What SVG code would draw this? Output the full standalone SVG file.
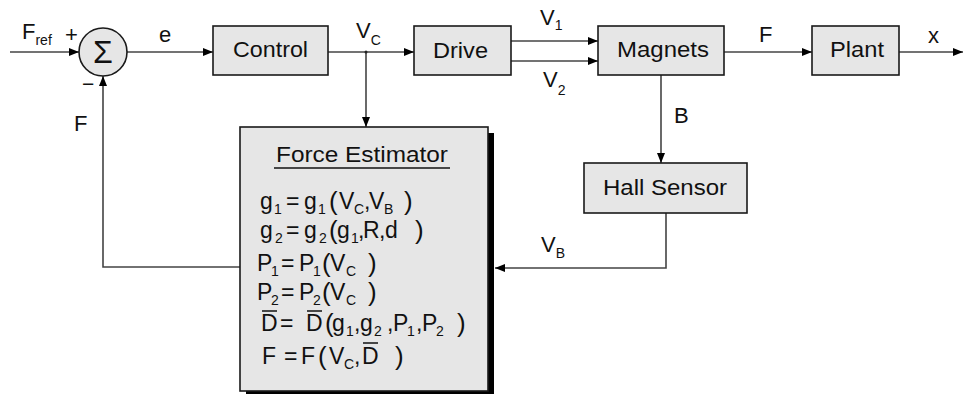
<svg xmlns="http://www.w3.org/2000/svg" width="964" height="394" viewBox="0 0 964 394">
<style>
.box{fill:#e6e6e6;stroke:#1a1a1a;stroke-width:1.6}
.t{font-family:"Liberation Sans",Arial,sans-serif;fill:#111;font-size:22px}
.eq{font-family:"Liberation Sans",Arial,sans-serif;fill:#111;font-size:23px}
.sb{font-size:14px}
.p{font-size:26px}
.w{stroke:#444;stroke-width:1.6;fill:none}
.ol{stroke:#111;stroke-width:1.5}
</style>
<defs>
<marker id="ar" viewBox="0 0 10 8" refX="10" refY="4" markerWidth="10" markerHeight="8" markerUnits="userSpaceOnUse" orient="auto">
<path d="M0,0 L10,4 L0,8 Z" fill="#000"/>
</marker>
</defs>

<g id="connectors">
<line class="w" x1="10" y1="52" x2="79" y2="52" marker-end="url(#ar)"/>
<line class="w" x1="127" y1="52" x2="213" y2="52" marker-end="url(#ar)"/>
<line class="w" x1="328" y1="52" x2="414" y2="52" marker-end="url(#ar)"/>
<line class="w" x1="366" y1="52" x2="366" y2="127" marker-end="url(#ar)"/>
<line class="w" x1="511" y1="41" x2="598" y2="41" marker-end="url(#ar)"/>
<line class="w" x1="511" y1="61" x2="598" y2="61" marker-end="url(#ar)"/>
<line class="w" x1="724" y1="52" x2="812" y2="52" marker-end="url(#ar)"/>
<line class="w" x1="899" y1="52" x2="963" y2="52" marker-end="url(#ar)"/>
<line class="w" x1="661" y1="75" x2="661" y2="163" marker-end="url(#ar)"/>
<polyline class="w" points="666,213 666,268 495,268" marker-end="url(#ar)"/>
<polyline class="w" points="240,267 103,267 103,76" marker-end="url(#ar)"/>
<circle cx="366" cy="52" r="1.5" fill="#222"/>
</g>

<g id="labels">
<text class="t" x="22" y="39">F<tspan class="sb" y="45">ref</tspan></text>
<text class="t" x="65" y="42" style="font-size:22px">+</text>
<text class="t" x="82" y="91" style="font-size:21px">−</text>
<text class="t" x="159" y="42">e</text>
<text class="t" x="356" y="38">V<tspan class="sb" y="45">C</tspan></text>
<text class="t" x="540" y="25">V<tspan class="sb" y="30">1</tspan></text>
<text class="t" x="543" y="87">V<tspan class="sb" y="95">2</tspan></text>
<text class="t" x="759" y="42">F</text>
<text class="t" x="928" y="43">x</text>
<text class="t" x="674" y="123">B</text>
<text class="t" x="541" y="252">V<tspan class="sb" y="258">B</tspan></text>
<text class="t" x="74" y="131">F</text>
</g>

<g id="sum">
<circle cx="103" cy="52" r="24" fill="#e6e6e6" stroke="#1a1a1a" stroke-width="1.6"/>
<text class="t" x="103" y="63" style="font-size:32px" text-anchor="middle">Σ</text>
</g>

<g id="control">
<rect class="box" x="213" y="26" width="115" height="49"/>
<text class="t" x="233" y="57" textLength="75" lengthAdjust="spacingAndGlyphs">Control</text>
</g>

<g id="drive">
<rect class="box" x="414" y="26" width="97" height="49"/>
<text class="t" x="433" y="58" textLength="55" lengthAdjust="spacingAndGlyphs">Drive</text>
</g>

<g id="magnets">
<rect class="box" x="598" y="26" width="126" height="49"/>
<text class="t" x="617" y="57" textLength="92" lengthAdjust="spacingAndGlyphs">Magnets</text>
</g>

<g id="plant">
<rect class="box" x="812" y="26" width="87" height="49"/>
<text class="t" x="830" y="57" textLength="54" lengthAdjust="spacingAndGlyphs">Plant</text>
</g>

<g id="hall-sensor">
<rect class="box" x="584" y="163" width="163" height="50"/>
<text class="t" x="603" y="195" textLength="124" lengthAdjust="spacingAndGlyphs">Hall Sensor</text>
</g>

<g id="force-estimator">
<rect x="246" y="133" width="248" height="264" fill="#000"/>
<rect class="box" x="240" y="127" width="248" height="264"/>
<text class="t" x="276" y="162" textLength="172" lengthAdjust="spacingAndGlyphs">Force Estimator</text>
<line class="ol" x1="274" y1="168" x2="450" y2="168"/>

<text class="eq" y="209"><tspan x="260">g</tspan><tspan x="274" y="214" class="sb">1</tspan><tspan x="286" y="209">=</tspan><tspan x="304">g</tspan><tspan x="318" y="214" class="sb">1</tspan><tspan x="329" y="210" class="p">(</tspan><tspan x="339" y="209">V</tspan><tspan x="354" y="214" class="sb">C</tspan><tspan x="364" y="209">,</tspan><tspan x="369">V</tspan><tspan x="384" y="214" class="sb">B</tspan><tspan x="404" y="210" class="p">)</tspan></text>

<text class="eq" y="238"><tspan x="260">g</tspan><tspan x="275" y="243" class="sb">2</tspan><tspan x="286" y="238">=</tspan><tspan x="304">g</tspan><tspan x="319" y="243" class="sb">2</tspan><tspan x="329" y="239" class="p">(</tspan><tspan x="337" y="238">g</tspan><tspan x="351" y="243" class="sb">1</tspan><tspan x="358" y="238">,</tspan><tspan x="363">R</tspan><tspan x="379">,</tspan><tspan x="385">d</tspan><tspan x="415" y="239" class="p">)</tspan></text>

<text class="eq" y="271"><tspan x="257">P</tspan><tspan x="271" y="276" class="sb">1</tspan><tspan x="281" y="271">=</tspan><tspan x="299">P</tspan><tspan x="313" y="276" class="sb">1</tspan><tspan x="322" y="272" class="p">(</tspan><tspan x="330" y="271">V</tspan><tspan x="346" y="276" class="sb">C</tspan><tspan x="368" y="272" class="p">)</tspan></text>

<text class="eq" y="300"><tspan x="257">P</tspan><tspan x="271" y="305" class="sb">2</tspan><tspan x="281" y="300">=</tspan><tspan x="299">P</tspan><tspan x="313" y="305" class="sb">2</tspan><tspan x="322" y="301" class="p">(</tspan><tspan x="330" y="300">V</tspan><tspan x="346" y="305" class="sb">C</tspan><tspan x="368" y="301" class="p">)</tspan></text>

<text class="eq" y="331"><tspan x="261">D</tspan><tspan x="280">=</tspan><tspan x="306">D</tspan><tspan x="325" y="332" class="p">(</tspan><tspan x="332" y="331">g</tspan><tspan x="346" y="336" class="sb">1</tspan><tspan x="354" y="331">,</tspan><tspan x="360">g</tspan><tspan x="374" y="336" class="sb">2</tspan><tspan x="387" y="331">,</tspan><tspan x="393">P</tspan><tspan x="407" y="336" class="sb">1</tspan><tspan x="416" y="331">,</tspan><tspan x="422">P</tspan><tspan x="436" y="336" class="sb">2</tspan><tspan x="457" y="332" class="p">)</tspan></text>
<line class="ol" x1="262" y1="311" x2="277" y2="311"/>
<line class="ol" x1="307" y1="311" x2="322" y2="311"/>

<text class="eq" y="364"><tspan x="262">F</tspan><tspan x="284">=</tspan><tspan x="301">F</tspan><tspan x="318" y="365" class="p">(</tspan><tspan x="329" y="364">V</tspan><tspan x="344" y="369" class="sb">C</tspan><tspan x="354" y="364">,</tspan><tspan x="362">D</tspan><tspan x="395" y="365" class="p">)</tspan></text>
<line class="ol" x1="363" y1="343" x2="378" y2="343"/>
</g>
</svg>
